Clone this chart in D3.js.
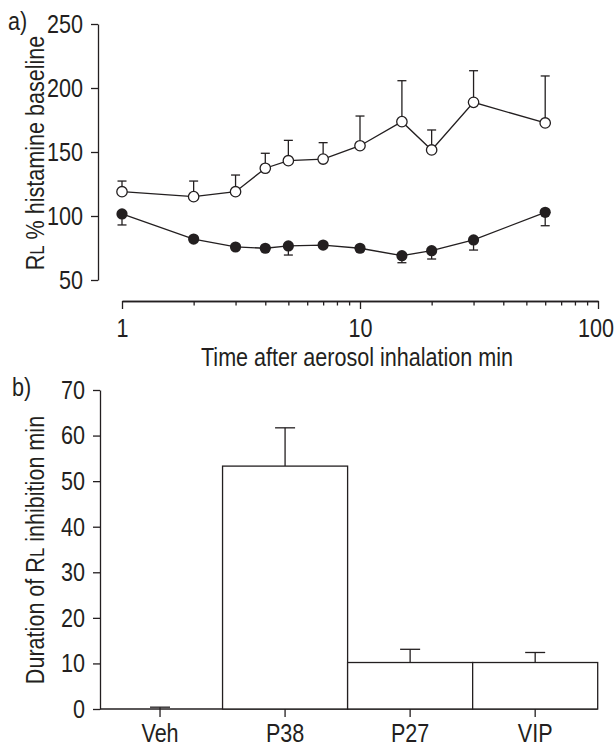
<!DOCTYPE html>
<html>
<head>
<meta charset="utf-8">
<script src="https://cdn.jsdelivr.net/npm/d3@7"></script>
<style>
  html, body { margin: 0; padding: 0; background: #fff; }
  svg text { font-family: "Liberation Sans", Arial, sans-serif; fill: #231f20; }
</style>
</head>
<body>
<svg id="chart" width="616" height="748"></svg>
<script>
// Panel a: airway resistance over time (log time axis)
const times = [1, 2, 3, 4, 5, 7, 10, 15, 20, 30, 60];
const openMean = [119.0, 115.1, 119.0, 137.3, 143.2, 144.5, 154.9, 173.7, 151.6, 188.8, 172.7];
const openErr = [8.3, 12.2, 13.0, 11.7, 15.9, 12.8, 23.2, 32.0, 15.6, 24.7, 36.7];
const filledMean = [101.6, 82.0, 75.8, 74.8, 76.6, 77.3, 74.8, 69.0, 72.9, 81.3, 102.9];
const filledErr = [8.6, 2, 2, 2, 7.1, 2, 2, 5.5, 6.5, 7.9, 10.5];
const yTicksA = [50, 100, 150, 200, 250];
const xMajorA = [1, 10, 100];
const xMinorA = [2, 3, 4, 5, 6, 7, 8, 9, 20, 30, 40, 50, 60, 70, 80, 90];

// Panel b: duration of inhibition per treatment
const groups = ["Veh", "P38", "P27", "VIP"];
const duration = [0, 53.3, 10.2, 10.2];
const durationErr = [0.4, 8.4, 2.9, 2.2];
const yTicksB = [0, 10, 20, 30, 40, 50, 60, 70];

const ink = "#231f20";
const FS = 26;
const SX = 0.83; // horizontal squeeze for a narrow typeface look
const svg = d3.select("#chart");

// Move x/y into a transform so the glyphs can be narrowed around their anchor
function condense(sel) {
  sel.each(function () {
    const t = d3.select(this);
    const x = +t.attr("x") || 0, y = +t.attr("y") || 0;
    t.attr("x", 0).attr("y", 0).attr("transform", `translate(${x},${y}) scale(${SX},1)`);
  });
}

function styleAxis(g) {
  g.selectAll("path.domain").attr("stroke", ink).attr("stroke-width", 1.3);
  g.selectAll(".tick line").attr("stroke", ink).attr("stroke-width", 1.3);
  g.selectAll(".tick text").attr("font-size", FS).attr("fill", ink)
    .style("font-family", '"Liberation Sans", Arial, sans-serif')
    .call(condense);
}

function label(x, y, txt, anchor) {
  return svg.append("text").attr("font-size", FS).attr("text-anchor", anchor || "start")
    .attr("transform", `translate(${x},${y}) scale(${SX},1)`).text(txt);
}

// ---------- Panel a ----------
const xA = d3.scaleLog().domain([1, 100]).range([122, 598]);
const yA = d3.scaleLinear().domain([50, 250]).range([280, 24]);
const axisYA = 301;

svg.append("g").attr("transform", "translate(98,0)")
  .call(d3.axisLeft(yA).tickValues(yTicksA).tickSize(7).tickSizeOuter(0).tickPadding(8).tickFormat(d3.format("d")))
  .call(styleAxis);

svg.append("g").attr("transform", `translate(0,${axisYA})`)
  .call(d3.axisBottom(xA).tickValues(xMinorA).tickSize(4.5).tickSizeOuter(0).tickFormat(""))
  .call(styleAxis);
const gxA = svg.append("g").attr("transform", `translate(0,${axisYA})`)
  .call(d3.axisBottom(xA).tickValues(xMajorA).tickSize(8).tickSizeOuter(0).tickPadding(10).tickFormat(d3.format("d")))
  .call(styleAxis);
// keep the last decade label inside the frame
gxA.selectAll(".tick text").filter(d => d === 100).attr("dx", -3);

const line = d3.line().x(d => xA(d.t)).y(d => yA(d.v));
const openPts = times.map((t, i) => ({ t, v: openMean[i], e: openErr[i] }));
const filledPts = times.map((t, i) => ({ t, v: filledMean[i], e: filledErr[i] }));

const capA = 4.5;
function errorBars(pts, dir) {
  const g = svg.append("g").attr("stroke", ink).attr("stroke-width", 1.3);
  g.selectAll("line.v").data(pts).join("line")
    .attr("x1", d => xA(d.t)).attr("x2", d => xA(d.t))
    .attr("y1", d => yA(d.v)).attr("y2", d => yA(d.v + dir * d.e));
  g.selectAll("line.c").data(pts).join("line")
    .attr("x1", d => xA(d.t) - capA).attr("x2", d => xA(d.t) + capA)
    .attr("y1", d => yA(d.v + dir * d.e)).attr("y2", d => yA(d.v + dir * d.e));
}
errorBars(openPts, 1);
errorBars(filledPts, -1);

svg.append("path").datum(openPts).attr("d", line)
  .attr("fill", "none").attr("stroke", ink).attr("stroke-width", 1.3);
svg.append("path").datum(filledPts).attr("d", line)
  .attr("fill", "none").attr("stroke", ink).attr("stroke-width", 1.3);

svg.append("g").selectAll("circle").data(openPts).join("circle")
  .attr("cx", d => xA(d.t)).attr("cy", d => yA(d.v)).attr("r", 5.2)
  .attr("fill", "#fff").attr("stroke", ink).attr("stroke-width", 1.3);
svg.append("g").selectAll("circle").data(filledPts).join("circle")
  .attr("cx", d => xA(d.t)).attr("cy", d => yA(d.v)).attr("r", 5.6)
  .attr("fill", ink);

label(8, 30, "a)");

const yLabA = svg.append("text").attr("font-size", FS).attr("text-anchor", "middle")
  .attr("transform", `translate(44,153) rotate(-90) scale(${SX},1)`);
yLabA.append("tspan").text("R");
yLabA.append("tspan").attr("font-size", FS * 0.78).text("L");
yLabA.append("tspan").text(" % histamine baseline");

label(357, 366, "Time after aerosol inhalation min", "middle");

// ---------- Panel b ----------
const xB = d3.scaleBand().domain(groups).range([97.5, 597.7]).padding(0);
const yB = d3.scaleLinear().domain([0, 70]).range([709, 390]);

svg.append("g").attr("transform", "translate(100,0)")
  .call(d3.axisLeft(yB).tickValues(yTicksB).tickSize(7).tickSizeOuter(0).tickPadding(8))
  .call(styleAxis);

const gxB = svg.append("g").attr("transform", "translate(0,709)")
  .call(d3.axisBottom(xB).tickSize(8).tickSizeOuter(0).tickPadding(7))
  .call(styleAxis);
gxB.select("path.domain").remove();
svg.append("line").attr("x1", 100).attr("x2", xB.range()[1])
  .attr("y1", yB(0)).attr("y2", yB(0)).attr("stroke", ink).attr("stroke-width", 1.3);

const bars = groups.map((g, i) => ({ g, v: duration[i], e: durationErr[i] }));
svg.append("g").selectAll("rect").data(bars.filter(d => d.v > 0)).join("rect")
  .attr("x", d => xB(d.g)).attr("width", xB.bandwidth())
  .attr("y", d => yB(d.v)).attr("height", d => yB(0) - yB(d.v))
  .attr("fill", "#fff").attr("stroke", ink).attr("stroke-width", 1.3);

const capB = 10;
const eb = svg.append("g").attr("stroke", ink).attr("stroke-width", 1.3);
eb.selectAll("line.v").data(bars).join("line")
  .attr("x1", d => xB(d.g) + xB.bandwidth() / 2).attr("x2", d => xB(d.g) + xB.bandwidth() / 2)
  .attr("y1", d => yB(d.v)).attr("y2", d => yB(d.v + d.e));
eb.selectAll("line.c").data(bars).join("line")
  .attr("x1", d => xB(d.g) + xB.bandwidth() / 2 - capB).attr("x2", d => xB(d.g) + xB.bandwidth() / 2 + capB)
  .attr("y1", d => yB(d.v + d.e)).attr("y2", d => yB(d.v + d.e));

label(12, 396, "b)");

const yLabB = svg.append("text").attr("font-size", FS).attr("text-anchor", "middle")
  .attr("transform", `translate(44,550) rotate(-90) scale(${SX},1)`);
yLabB.append("tspan").text("Duration of R");
yLabB.append("tspan").attr("font-size", FS * 0.78).text("L");
yLabB.append("tspan").text(" inhibition min");
</script>
</body>
</html>
